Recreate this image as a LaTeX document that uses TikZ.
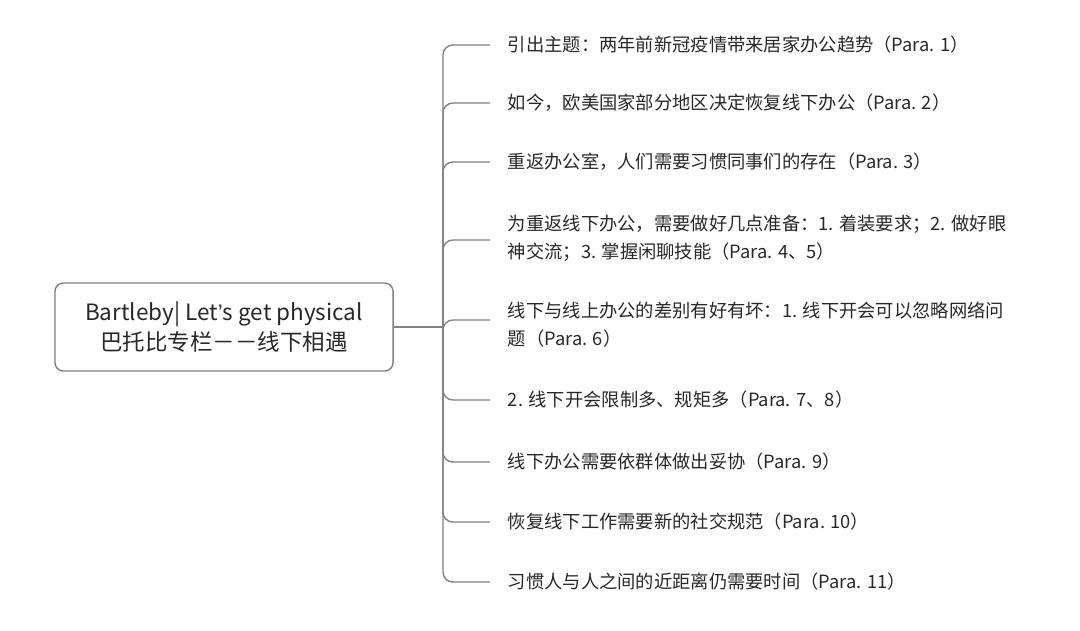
\documentclass[tikz,border=0pt]{standalone}
\usepackage{fontspec}
\setmainfont{Noto Sans CJK SC}
\newfontfamily\latinfont{Liberation Sans}
\usepackage{tikz}
\usetikzlibrary{positioning}
\definecolor{linegray}{RGB}{128,128,128}
\definecolor{textdark}{RGB}{40,40,40}

\begin{document}
\begin{tikzpicture}[x=0.025cm, y=-0.025cm,
    rootbox/.style={draw=linegray, line width=1pt, rounded corners=6pt, minimum width=8.45cm, minimum height=2.2cm, align=center, font=\fontsize{16}{21}\selectfont, text=textdark},
    topic/.style={anchor=west, align=left, font=\fontsize{13}{20}\selectfont, text=textdark},
    branch/.style={draw=linegray, line width=1pt, rounded corners=7pt}
]
    \useasboundingbox (0,0) rectangle (1080,631);
    % Root
    \node[rootbox] (root) at (224,327) {Bartleby| Let{\latinfont ’}s get physical\\巴托比专栏－－线下相遇};
    \coordinate (hub) at (443,327);
    \draw[linegray, line width=1pt] (root.east) -- (hub);

    % Topics
    \node[topic] (t1) at (503,45) {引出主题：两年前新冠疫情带来居家办公趋势（Para. 1）};
    \node[topic] (t2) at (503,103) {如今，欧美国家部分地区决定恢复线下办公（Para. 2）};
    \node[topic] (t3) at (503,162) {重返办公室，人们需要习惯同事们的存在（Para. 3）};
    \node[topic] (t4) at (503,238) {为重返线下办公，需要做好几点准备：1. 着装要求；2. 做好眼\\神交流；3. 掌握闲聊技能（Para. 4、5）};
    \node[topic] (t5) at (503,325) {线下与线上办公的差别有好有坏：1. 线下开会可以忽略网络问\\题（Para. 6）};
    \node[topic] (t6) at (503,400) {2. 线下开会限制多、规矩多（Para. 7、8）};
    \node[topic] (t7) at (503,462) {线下办公需要依群体做出妥协（Para. 9）};
    \node[topic] (t8) at (503,522) {恢复线下工作需要新的社交规范（Para. 10）};
    \node[topic] (t9) at (503,582) {习惯人与人之间的近距离仍需要时间（Para. 11）};

    % Branches
    \foreach \t/\yy in {t1/45, t2/103, t3/162, t4/240, t5/320, t6/400, t7/462, t8/522, t9/582}
        \draw[branch] (hub) |- (490,\yy);
\end{tikzpicture}
\end{document}
